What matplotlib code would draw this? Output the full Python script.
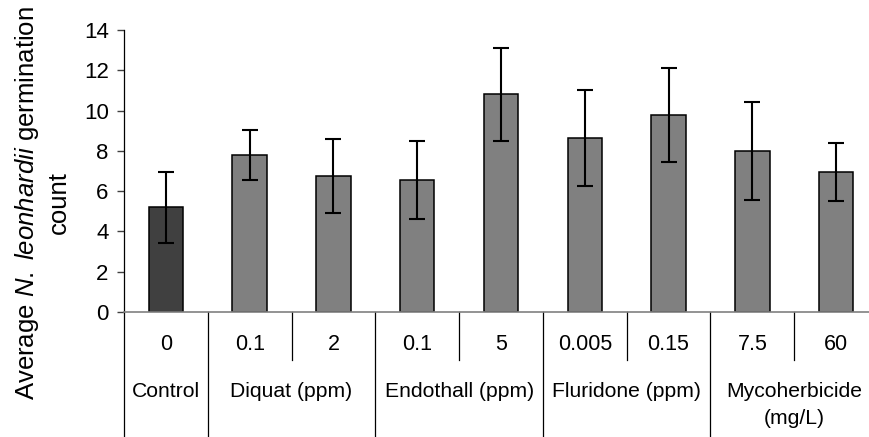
import matplotlib
matplotlib.use("Agg")
import matplotlib.pyplot as plt
import matplotlib.transforms as mtransforms

plt.rcParams['font.family'] = ['Liberation Sans', 'DejaVu Sans']
plt.rcParams['mathtext.fontset'] = 'custom'
plt.rcParams['mathtext.rm'] = 'Liberation Sans'
plt.rcParams['mathtext.it'] = 'Liberation Sans:italic'

# values
doses = ['0', '0.1', '2', '0.1', '5', '0.005', '0.15', '7.5', '60']
means = [5.2, 7.8, 6.75, 6.55, 10.8, 8.65, 9.8, 8.0, 6.95]
errors = [1.75, 1.25, 1.85, 1.95, 2.3, 2.38, 2.33, 2.42, 1.44]
groups = ['Control', 'Diquat (ppm)', 'Endothall (ppm)', 'Fluridone (ppm)', 'Mycoherbicide\n(mg/L)']
group_sizes = [1, 2, 2, 2, 2]
colors = ['#404040'] + ['#808080'] * 8

fig = plt.figure(figsize=(8.7, 4.37), dpi=100)
ax = fig.add_axes([124 / 870, 125 / 437, 754 / 870, 282 / 437])

x = [i + 0.5 for i in range(len(means))]
ax.bar(x, means, width=0.41, color=colors, edgecolor='black', linewidth=1.1, zorder=2)
ax.errorbar(x, means, yerr=errors, fmt='none', ecolor='black', elinewidth=1.5,
            capsize=5.5, capthick=1.5, zorder=3)

ax.set_xlim(0, 9)
ax.set_ylim(0, 14)
ax.set_yticks(range(0, 15, 2))
ax.tick_params(axis='y', labelsize=16, length=5, width=1, color='#404040', pad=6)
ax.set_xticks([])
for s in ['top', 'right']:
    ax.spines[s].set_visible(False)
ax.spines['left'].set_color('black')
ax.spines['bottom'].set_color('#808080')
ax.spines['left'].set_linewidth(0.9)
ax.spines['bottom'].set_linewidth(1.2)

# two-level category axis below the plot
trans = mtransforms.blended_transform_factory(ax.transData, ax.transAxes)
lo1 = -48 / 282
lo2 = -130 / 282
for i, d in enumerate(doses):
    ax.text(i + 0.5, -32 / 282, d, transform=trans, ha='center', va='center', fontsize=15.5)

edges = [0]
for n in group_sizes:
    edges.append(edges[-1] + n)
for e in edges:
    ax.plot([e, e], [0, lo2], transform=trans, color='black', lw=0.9, clip_on=False)
for a, b in zip(edges[:-1], edges[1:]):
    for k in range(a + 1, b):
        ax.plot([k, k], [0, lo1], transform=trans, color='black', lw=0.9, clip_on=False)

for g, a, b in zip(groups, edges[:-1], edges[1:]):
    ax.text((a + b) / 2, -70 / 282, g, transform=trans, ha='center', va='top',
            fontsize=15.2, linespacing=1.55)

fig.text(42 / 870, (437 - 203) / 437,
         'Average $\\mathit{N.\\ leonhardii}$ germination\ncount',
         rotation=90, ha='center', va='center', fontsize=18.5, linespacing=1.3)

fig.savefig('out.png', dpi=100)
